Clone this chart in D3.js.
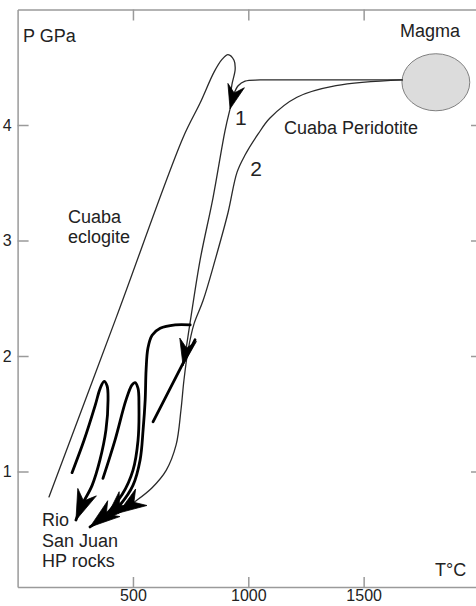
<!DOCTYPE html>
<html>
<head>
<meta charset="utf-8">
<script src="https://cdn.jsdelivr.net/npm/d3@7"></script>
<style>
  html, body { margin: 0; padding: 0; background: #fff; }
  svg { display: block; font-family: "Liberation Sans", Arial, sans-serif; }
</style>
</head>
<body>
<svg id="chart" width="476" height="606"></svg>
<script>
// ---------- data (T in °C, P in GPa) ----------
const T_TICKS = [500, 1000, 1500];
const P_TICKS = [1, 2, 3, 4];

// Cuaba eclogite path (thin)
const eclogitePath = [
  [136, 0.78], [427, 2.33], [717, 3.89], [791, 4.19], [852, 4.46], [887, 4.57],
  [912, 4.61], [938, 4.56], [943, 4.48], [929, 4.35], [921, 4.22]
];
// Path 1 from magma (thin)
const path1 = [
  [1667, 4.39], [1224, 4.39], [1051, 4.39], [986, 4.38], [956, 4.34], [938, 4.27],
  [921, 4.14], [899, 3.95], [847, 3.37], [791, 2.83], [747, 2.28], [726, 2.01], [717, 1.92]
];
// Path 2 from magma, Cuaba peridotite (thin)
const path2 = [
  [1667, 4.39], [1380, 4.34], [1211, 4.24], [1094, 4.06], [1042, 3.92], [986, 3.74],
  [951, 3.59], [912, 3.24], [856, 2.83], [804, 2.48], [765, 2.28], [739, 2.05],
  [721, 1.79], [708, 1.53], [687, 1.23], [644, 1.01], [583, 0.86], [509, 0.74], [436, 0.64]
];
// Rio San Juan HP rock loops (bold)
const loopA = [
  [236, 0.99], [288, 1.27], [336, 1.57], [358, 1.72], [375, 1.78], [388, 1.74],
  [392, 1.62], [383, 1.36], [357, 1.10], [323, 0.88], [279, 0.71], [253, 0.58]
];
const loopB = [
  [370, 0.94], [422, 1.27], [470, 1.62], [496, 1.75], [509, 1.77], [522, 1.72],
  [526, 1.57], [522, 1.27], [500, 1.01], [453, 0.80], [379, 0.62], [314, 0.52]
];
const loopCStem = [[587, 1.43], [769, 2.14]];
const loopC = [
  [748, 2.27], [683, 2.27], [618, 2.24], [583, 2.18], [565, 2.07], [557, 1.88],
  [553, 1.62], [544, 1.36], [531, 1.10], [500, 0.88], [444, 0.71], [379, 0.58]
];
// Magma body (centre T, P and half-extents)
const magma = { T: 1813, P: 4.37, dT: 147, dP: 0.247 };

// Annotation anchors (data coordinates)
const annotations = [
  { text: "Magma", T: 1658, P: 4.76, size: 18 },
  { text: "1", T: 942, P: 4.00, size: 21 },
  { text: "2", T: 1008, P: 3.56, size: 21 },
  { text: "Cuaba Peridotite", T: 1155, P: 3.92, size: 18 },
  { text: "Cuaba", T: 218, P: 3.15, size: 18 },
  { text: "eclogite", T: 218, P: 2.98, size: 18 },
  { text: "Rio", T: 106, P: 0.53, size: 18 },
  { text: "San Juan", T: 106, P: 0.35, size: 18 },
  { text: "HP rocks", T: 106, P: 0.17, size: 18 }
];

// ---------- drawing ----------
const svg = d3.select("#chart");
const W = 476, H = 606;
svg.append("rect").attr("width", W).attr("height", H).attr("fill", "#fff");

const x = d3.scaleLinear().domain([0, 2000]).range([17.6, 479]);
const y = d3.scaleLinear().domain([0, 5]).range([587, 9.5]);

const axisColor = "#9a9a9a";
function styleAxis(g) {
  g.selectAll(".domain").attr("stroke", axisColor).attr("stroke-width", 1.5);
  g.selectAll(".tick line").attr("stroke", axisColor).attr("stroke-width", 1.5);
  g.selectAll(".tick text").attr("fill", "#222").attr("font-size", 16)
    .attr("font-family", "'Liberation Sans', Arial, sans-serif");
}

svg.append("g").attr("transform", `translate(0,${y(0)})`)
  .call(d3.axisBottom(x).tickValues(T_TICKS).tickSizeInner(-10).tickSizeOuter(0)
    .tickPadding(3).tickFormat(d3.format("d")))
  .call(styleAxis);
svg.append("g").attr("transform", `translate(0,${y(5)})`)
  .call(d3.axisTop(x).tickValues(T_TICKS).tickSizeInner(-11).tickSizeOuter(0).tickFormat(""))
  .call(styleAxis);
svg.append("g").attr("transform", `translate(${x(0)},0)`)
  .call(d3.axisLeft(y).tickValues(P_TICKS).tickSizeInner(-11).tickSizeOuter(0).tickPadding(6).tickFormat(d3.format("d")))
  .call(styleAxis);
svg.append("g").attr("transform", `translate(${x(2000)},0)`)
  .call(d3.axisRight(y).tickValues(P_TICKS).tickSizeInner(-8).tickSizeOuter(0).tickFormat(""))
  .call(styleAxis);

// axis titles
svg.append("text").attr("x", x(0) + 5.5).attr("y", 42).text("P GPa")
  .attr("font-size", 18).attr("fill", "#222");
svg.append("text").attr("x", x(2000) - 44).attr("y", y(0) - 11).text("T°C")
  .attr("font-size", 18).attr("fill", "#222");

const line = d3.line().x(d => x(d[0])).y(d => y(d[1])).curve(d3.curveCatmullRom.alpha(0.5));
const straight = d3.line().x(d => x(d[0])).y(d => y(d[1]));

const thin = { stroke: "#2a2a2a", width: 1.3 };
const bold = { stroke: "#000", width: 2.8 };

function drawPath(data, st, gen) {
  svg.append("path").attr("d", (gen || line)(data)).attr("fill", "none")
    .attr("stroke", st.stroke).attr("stroke-width", st.width)
    .attr("stroke-linecap", "round").attr("stroke-linejoin", "round");
}

// magma body
svg.append("ellipse")
  .attr("cx", x(magma.T)).attr("cy", y(magma.P))
  .attr("rx", x(magma.T + magma.dT) - x(magma.T))
  .attr("ry", y(magma.P - magma.dP) - y(magma.P))
  .attr("fill", "#dcdcdc").attr("stroke", "#808080").attr("stroke-width", 1);

drawPath(eclogitePath, thin);
drawPath(path1, thin);
drawPath(path2, thin);
drawPath(loopA, bold);
drawPath(loopB, bold);
drawPath(loopCStem, bold, straight);
drawPath(loopC, bold);

// arrowheads
function arrowHead(series, idx, L, Wd) {
  const tip = series[idx], prev = series[idx - 1];
  const tx = x(tip[0]), ty = y(tip[1]);
  const px = x(prev[0]), py = y(prev[1]);
  let ux = tx - px, uy = ty - py;
  const n = Math.hypot(ux, uy); ux /= n; uy /= n;
  const nx = -uy, ny = ux;
  const pts = [
    [tx, ty],
    [tx - L * ux + Wd * nx, ty - L * uy + Wd * ny],
    [tx - 0.68 * L * ux, ty - 0.68 * L * uy],
    [tx - L * ux - Wd * nx, ty - L * uy - Wd * ny]
  ];
  svg.append("path").attr("d", "M" + pts.map(p => p.join(",")).join("L") + "Z")
    .attr("fill", "#000").attr("stroke", "#000").attr("stroke-width", 0.8)
    .attr("stroke-linejoin", "miter");
}
arrowHead(path1, 6, 24, 8.5);
arrowHead(path1, path1.length - 1, 26, 8.5);
arrowHead(path2, path2.length - 1, 28, 10);
arrowHead(loopA, loopA.length - 1, 30, 10);
arrowHead(loopB, loopB.length - 1, 30, 10);
arrowHead(loopC, loopC.length - 1, 30, 10);

// annotations
svg.selectAll("text.ann").data(annotations).enter().append("text")
  .attr("class", "ann")
  .attr("x", d => x(d.T)).attr("y", d => y(d.P))
  .attr("font-size", d => d.size).attr("fill", "#222")
  .text(d => d.text);
</script>
</body>
</html>
